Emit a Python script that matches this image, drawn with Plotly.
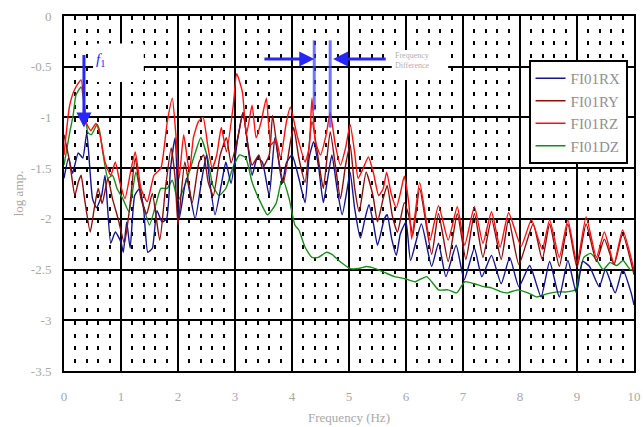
import plotly.graph_objects as go

# ---------------- data ----------------
rz_x = [0.0, 0.1, 0.19, 0.3, 0.39, 0.47, 0.56, 0.63, 0.72, 0.82, 0.9, 0.98, 1.07, 1.17, 1.25, 1.35, 1.46, 1.58, 1.7, 1.81, 1.9, 1.96, 2.02, 2.1, 2.2, 2.27, 2.36, 2.44, 2.52, 2.6, 2.68, 2.76, 2.85, 2.97, 3.03, 3.13, 3.2, 3.3, 3.37, 3.46, 3.55, 3.63, 3.72, 3.8, 3.9, 3.97, 4.1, 4.23, 4.3, 4.35, 4.41, 4.5, 4.6, 4.67, 4.76, 4.85, 4.94, 5.02, 5.1, 5.16, 5.25, 5.34, 5.43, 5.52, 5.6, 5.66, 5.74, 5.83, 5.9, 5.97, 6.05, 6.1, 6.24, 6.42, 6.57, 6.74, 6.9, 7.03, 7.2, 7.35, 7.5, 7.65, 7.8, 8.02, 8.2, 8.39, 8.52, 8.69, 8.84, 9.0, 9.16, 9.34, 9.48, 9.65, 9.8, 10.0]
rz_y = [-1.37, -0.88, -0.72, -0.63, -1.05, -1.13, -1.06, -1.17, -1.44, -1.57, -1.44, -1.64, -1.8, -1.53, -1.34, -1.7, -1.83, -1.57, -1.5, -1.05, -0.81, -1.15, -1.6, -1.17, -1.54, -1.2, -1.04, -1.0, -1.27, -1.5, -1.37, -1.1, -1.34, -0.88, -0.57, -0.75, -1.17, -0.88, -1.2, -1.04, -0.81, -1.27, -1.22, -1.4, -1.05, -0.9, -1.2, -1.44, -1.3, -0.81, -1.24, -1.37, -1.17, -0.95, -1.27, -1.47, -1.3, -1.07, -1.35, -1.6, -1.5, -1.39, -1.55, -1.77, -1.7, -1.54, -1.75, -1.89, -1.75, -1.58, -1.85, -2.2, -1.64, -2.21, -1.87, -2.21, -1.88, -2.26, -1.88, -2.24, -1.93, -2.28, -1.94, -2.27, -2.01, -2.3, -2.01, -2.38, -2.01, -2.44, -1.98, -2.38, -2.13, -2.44, -2.11, -2.5]

rx_x = [0.0, 0.08, 0.15, 0.25, 0.33, 0.4, 0.5, 0.57, 0.66, 0.72, 0.82, 0.9, 1.0, 1.04, 1.1, 1.16, 1.24, 1.33, 1.4, 1.47, 1.55, 1.63, 1.72, 1.8, 1.87, 1.95, 2.02, 2.15, 2.3, 2.42, 2.5, 2.55, 2.65, 2.78, 2.84, 2.93, 3.05, 3.14, 3.22, 3.3, 3.39, 3.48, 3.6, 3.7, 3.83, 3.9, 4.0, 4.12, 4.23, 4.3, 4.38, 4.47, 4.55, 4.64, 4.7, 4.79, 4.88, 4.97, 5.02, 5.1, 5.2, 5.28, 5.35, 5.43, 5.5, 5.62, 5.67, 5.75, 5.83, 5.9, 6.0, 6.08, 6.27, 6.45, 6.57, 6.7, 6.88, 7.02, 7.2, 7.33, 7.5, 7.67, 7.82, 7.98, 8.17, 8.37, 8.52, 8.69, 8.84, 8.99, 9.1, 9.22, 9.39, 9.5, 9.67, 9.8, 9.95, 10.0]
rx_y = [-1.6, -1.4, -1.55, -1.35, -1.4, -1.15, -1.8, -1.89, -1.77, -1.57, -2.24, -2.13, -2.23, -2.33, -2.03, -2.29, -1.77, -1.7, -1.92, -2.33, -2.29, -1.92, -2.03, -2.0, -1.5, -1.2, -2.0, -1.6, -2.0, -1.6, -1.37, -1.6, -1.96, -1.6, -1.44, -1.65, -1.2, -0.95, -1.25, -1.57, -1.4, -1.44, -1.77, -1.2, -1.65, -1.45, -1.37, -1.6, -1.84, -1.4, -1.24, -1.5, -1.84, -1.55, -1.37, -1.7, -1.96, -1.7, -1.54, -1.9, -2.19, -2.0, -1.86, -2.05, -2.26, -2.0, -1.96, -2.2, -2.36, -2.15, -2.03, -2.41, -2.05, -2.47, -2.24, -2.57, -2.26, -2.6, -2.29, -2.57, -2.36, -2.64, -2.38, -2.67, -2.46, -2.77, -2.42, -2.77, -2.41, -2.73, -2.42, -2.47, -2.67, -2.5, -2.73, -2.5, -2.73, -2.85]

ry_x = [0.0, 0.1, 0.19, 0.25, 0.3, 0.36, 0.46, 0.53, 0.6, 0.67, 0.77, 0.85, 0.95, 1.06, 1.15, 1.25, 1.35, 1.45, 1.55, 1.68, 1.78, 1.88, 1.95, 2.0, 2.12, 2.25, 2.37, 2.45, 2.53, 2.62, 2.74, 2.85, 2.93, 3.05, 3.14, 3.22, 3.3, 3.42, 3.48, 3.6, 3.66, 3.76, 3.85, 3.97, 4.03, 4.12, 4.23, 4.35, 4.47, 4.55, 4.67, 4.76, 4.85, 4.94, 5.02, 5.1, 5.18, 5.3, 5.42, 5.5, 5.6, 5.67, 5.76, 5.85, 5.97, 6.05, 6.12, 6.24, 6.45, 6.57, 6.74, 6.9, 7.05, 7.2, 7.35, 7.5, 7.67, 7.8, 7.98, 8.23, 8.39, 8.52, 8.69, 8.84, 9.0, 9.16, 9.34, 9.48, 9.65, 9.8, 10.0]
ry_y = [-1.17, -1.44, -1.77, -1.64, -1.57, -1.8, -2.13, -1.9, -1.7, -1.85, -1.6, -1.8, -2.0, -2.24, -1.9, -1.4, -1.8, -1.95, -1.75, -2.21, -1.7, -1.3, -1.6, -2.06, -1.44, -1.84, -1.44, -1.37, -1.64, -1.77, -1.37, -1.2, -1.45, -1.2, -0.95, -1.25, -1.47, -1.37, -1.5, -1.37, -0.98, -1.4, -1.64, -1.25, -1.1, -1.4, -1.64, -1.04, -1.44, -1.7, -1.14, -1.47, -1.8, -1.47, -1.27, -1.7, -1.93, -1.54, -1.77, -2.03, -1.8, -1.67, -1.97, -2.13, -1.84, -1.97, -2.16, -1.7, -2.35, -1.95, -2.42, -1.95, -2.4, -1.95, -2.38, -2.0, -2.4, -2.0, -2.45, -2.05, -2.4, -2.05, -2.47, -2.05, -2.48, -2.05, -2.42, -2.2, -2.45, -2.15, -2.55]

dz_x = [0.0, 0.1, 0.16, 0.21, 0.3, 0.36, 0.42, 0.48, 0.58, 0.62, 0.68, 0.77, 0.85, 0.93, 1.03, 1.14, 1.26, 1.38, 1.5, 1.62, 1.7, 1.81, 1.9, 2.0, 2.14, 2.29, 2.4, 2.52, 2.61, 2.72, 2.84, 2.96, 3.08, 3.19, 3.3, 3.45, 3.57, 3.72, 3.83, 3.95, 4.05, 4.12, 4.23, 4.35, 4.46, 4.6, 4.7, 4.82, 5.02, 5.17, 5.31, 5.46, 5.63, 5.8, 5.98, 6.16, 6.36, 6.45, 6.57, 6.74, 6.89, 7.03, 7.2, 7.38, 7.5, 7.67, 7.78, 7.96, 8.14, 8.3, 8.47, 8.65, 8.82, 8.97, 9.04, 9.12, 9.24, 9.35, 9.46, 9.58, 9.7, 9.81, 9.93, 10.0]
dz_y = [-1.47, -1.15, -0.98, -0.78, -0.7, -0.9, -1.15, -1.17, -1.07, -1.12, -1.34, -1.6, -1.57, -1.7, -1.8, -1.93, -1.54, -1.84, -2.06, -1.84, -1.7, -1.7, -1.62, -1.82, -1.64, -1.37, -1.2, -1.4, -1.67, -1.77, -1.7, -1.5, -1.37, -1.4, -1.64, -1.84, -1.96, -1.85, -1.6, -1.8, -2.06, -2.11, -2.28, -2.38, -2.38, -2.33, -2.35, -2.41, -2.49, -2.49, -2.47, -2.49, -2.53, -2.57, -2.59, -2.62, -2.57, -2.62, -2.7, -2.7, -2.73, -2.62, -2.64, -2.67, -2.68, -2.72, -2.73, -2.7, -2.73, -2.77, -2.74, -2.72, -2.72, -2.7, -2.54, -2.38, -2.34, -2.41, -2.5, -2.43, -2.46, -2.41, -2.5, -2.5]

x_ticks = [0, 1, 2, 3, 4, 5, 6, 7, 8, 9, 10]
y_ticks = [0, -0.5, -1, -1.5, -2, -2.5, -3, -3.5]
y_ticktext = ["0", "-0.5", "-1", "-1.5", "-2", "-2.5", "-3", "-3.5"]

# annotation positions (data units)
f1_x = 0.35
f1_top, f1_head = -0.37, -1.1
fd_left, fd_right = 4.39, 4.67

serif = "Liberation Serif"
gray = "#a8a8a8"
smooth = 0.5

fig = go.Figure()
fig.add_trace(go.Scatter(x=dz_x, y=dz_y, mode="lines", name="FI01DZ", legendrank=4,
                         line=dict(color="#1a8c1a", width=1.4, shape="spline", smoothing=smooth)))
fig.add_trace(go.Scatter(x=rx_x, y=rx_y, mode="lines", name="FI01RX", legendrank=1,
                         line=dict(color="#14148c", width=1.4, shape="spline", smoothing=smooth)))
fig.add_trace(go.Scatter(x=ry_x, y=ry_y, mode="lines", name="FI01RY", legendrank=2,
                         line=dict(color="#8c0f0f", width=1.4, shape="spline", smoothing=smooth)))
fig.add_trace(go.Scatter(x=rz_x, y=rz_y, mode="lines", name="FI01RZ", legendrank=3,
                         line=dict(color="#ff1010", width=1.4, shape="spline", smoothing=smooth)))

# white boxes behind annotation texts
fig.add_shape(type="rect", x0=0.51, x1=1.40, y0=-0.65, y1=-0.27, xref="x", yref="y",
              fillcolor="white", line=dict(width=0), layer="above")
fig.add_shape(type="rect", x0=5.75, x1=6.74, y0=-0.63, y1=-0.335, xref="x", yref="y",
              fillcolor="white", line=dict(width=0), layer="above")

# frequency difference vertical lines
fig.add_shape(type="line", x0=fd_left, x1=fd_left, y0=-0.24, y1=-0.93, xref="x", yref="y",
              line=dict(color="rgba(70,70,255,0.75)", width=3), layer="above")
fig.add_shape(type="line", x0=fd_right, x1=fd_right, y0=-0.24, y1=-1.1, xref="x", yref="y",
              line=dict(color="rgba(70,70,255,0.75)", width=3), layer="above")

# arrows
fig.add_annotation(x=f1_x, y=f1_head, ax=f1_x, ay=f1_top, xref="x", yref="y", axref="x", ayref="y",
                   showarrow=True, arrowhead=2, arrowsize=1, arrowwidth=3, arrowcolor="#2626ff", text="")
fig.add_annotation(x=fd_left, y=-0.425, ax=3.49, ay=-0.425, xref="x", yref="y", axref="x", ayref="y",
                   showarrow=True, arrowhead=2, arrowsize=1, arrowwidth=3, arrowcolor="#2626ff", text="")
fig.add_annotation(x=4.72, y=-0.425, ax=5.67, ay=-0.425, xref="x", yref="y", axref="x", ayref="y",
                   showarrow=True, arrowhead=2, arrowsize=1, arrowwidth=3, arrowcolor="#2626ff", text="")

fig.add_annotation(x=0.52, y=-0.43, xref="x", yref="y", showarrow=False, xanchor="left",
                   text="<i>f</i><sub>1</sub>", font=dict(family=serif, size=15, color="#2626ff"))
fig.add_annotation(x=5.78, y=-0.44, xref="x", yref="y", showarrow=False, xanchor="left",
                   align="left", text="Frequency<br>Difference",
                   font=dict(family=serif, size=8, color="#b0b0b0"))

fig.update_layout(
    width=643, height=427,
    margin=dict(l=64, r=9, t=16, b=56),
    paper_bgcolor="white", plot_bgcolor="white",
    showlegend=True,
    legend=dict(x=0.815, y=0.876, xanchor="left", yanchor="top",
                bgcolor="white", bordercolor="black", borderwidth=2,
                font=dict(family=serif, size=15, color="#909090"),
                itemwidth=30, tracegroupgap=0),
    font=dict(family=serif, color=gray),
)
fig.update_xaxes(range=[0, 10], tickvals=x_ticks, showgrid=True, gridcolor="black", gridwidth=2,
                 showline=True, mirror=True, linecolor="black", linewidth=2, zeroline=False,
                 automargin=False,
                 ticks="", ticklabelstandoff=12, tickfont=dict(family=serif, size=13, color=gray),
                 title=dict(text="Frequency (Hz)", font=dict(family=serif, size=13, color=gray), standoff=10),
                 minor=dict(dtick=0.2, showgrid=True, gridcolor="black", gridwidth=2, griddash="4px,8.7px"))
fig.update_yaxes(range=[-3.5, 0], tickvals=y_ticks, ticktext=y_ticktext, showgrid=True, gridcolor="black",
                 gridwidth=2, showline=True, mirror=True, linecolor="black", linewidth=2, zeroline=False,
                 automargin=False,
                 ticks="", ticklabelstandoff=8, tickfont=dict(family=serif, size=13, color=gray),
                 title=dict(text="log amp.", font=dict(family=serif, size=13, color=gray), standoff=4))

fig.write_html("out.html")
